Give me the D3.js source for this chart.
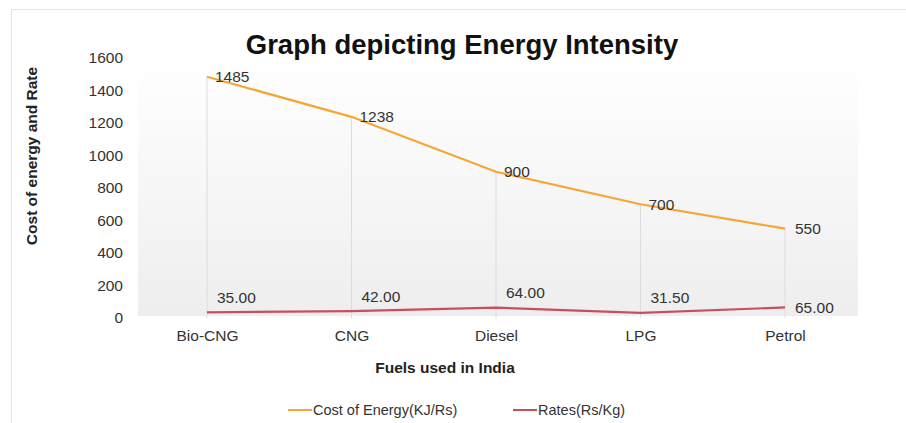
<!DOCTYPE html>
<html><head><meta charset="utf-8">
<script src="https://cdn.jsdelivr.net/npm/d3@7"></script>
<style>body{margin:0;background:#fff}svg{display:block;font-family:"Liberation Sans",Arial,sans-serif}</style>
</head><body>
<svg id="c" width="906" height="423"></svg>
<script>
const categories = ["Bio-CNG","CNG","Diesel","LPG","Petrol"];
const costOfEnergy = [1485,1238,900,700,550];
const costLabels = ["1485","1238","900","700","550"];
const rates = [35.00,42.00,64.00,31.50,65.00];
const rateLabels = ["35.00","42.00","64.00","31.50","65.00"];
const yTicks = [0,200,400,600,800,1000,1200,1400,1600];
const seriesNames = ["Cost of Energy(KJ/Rs)","Rates(Rs/Kg)"];
const colors = ["#f7a536","#c8505e"];

const svg = d3.select("#c");
const defs = svg.append("defs");
const g = defs.append("linearGradient").attr("id","bg").attr("x1",0).attr("y1",0).attr("x2",0).attr("y2",1);
g.append("stop").attr("offset","0%").attr("stop-color","#ffffff");
g.append("stop").attr("offset","100%").attr("stop-color","#eeeeee");

// outer border
svg.append("rect").attr("x",11.5).attr("y",9.5).attr("width",1000).attr("height",500)
  .attr("fill","#fff").attr("stroke","#e2e2e2");

const x = d3.scalePoint().domain(categories).range([207,785]);
const y = d3.scaleLinear().domain([0,1600]).range([318,58]);

// plot background
svg.append("rect").attr("x",138).attr("y",58).attr("width",720).attr("height",y(0)-58-2)
  .attr("fill","url(#bg)");

// drop lines
svg.append("g").selectAll("line").data(categories).join("line")
  .attr("x1",d=>x(d)).attr("x2",d=>x(d))
  .attr("y1",(d,i)=>y(costOfEnergy[i])).attr("y2",y(0))
  .attr("stroke","#dcdcdc").attr("stroke-width",1);

// title
svg.append("text").attr("x",462).attr("y",54).attr("text-anchor","middle")
  .attr("font-size",27.5).attr("font-weight","bold").attr("fill","#111")
  .text("Graph depicting Energy Intensity");

// y axis
const ya = svg.append("g").attr("transform","translate(123,0)")
  .call(d3.axisLeft(y).tickValues(yTicks).tickSize(0).tickPadding(0).tickFormat(d3.format("d")));
ya.select(".domain").remove();
ya.selectAll("text").attr("font-size",15.5).attr("fill","#333").attr("font-family","Liberation Sans, Arial, sans-serif");

// x axis
const xa = svg.append("g").attr("transform","translate(0,327)")
  .call(d3.axisBottom(x).tickSize(0).tickPadding(0));
xa.select(".domain").remove();
xa.selectAll("text").attr("font-size",15.5).attr("fill","#333").attr("dy","0.9em").attr("font-family","Liberation Sans, Arial, sans-serif");

// axis titles
svg.append("text").attr("x",445).attr("y",373).attr("text-anchor","middle")
  .attr("font-size",15.5).attr("font-weight","bold").attr("fill","#222").text("Fuels used in India");
svg.append("text").attr("transform","translate(37,156) rotate(-90)").attr("text-anchor","middle")
  .attr("font-size",15.5).attr("font-weight","bold").attr("fill","#222").text("Cost of energy and Rate");

// lines
const line = d3.line().x((d,i)=>x(categories[i])).y(d=>y(d));
svg.append("path").datum(costOfEnergy).attr("d",line).attr("fill","none")
  .attr("stroke",colors[0]).attr("stroke-width",2.2);
svg.append("path").datum(rates).attr("d",line).attr("fill","none")
  .attr("stroke",colors[1]).attr("stroke-width",2.2);

// labels
svg.append("g").selectAll("text").data(costOfEnergy).join("text")
  .attr("x",(d,i)=>x(categories[i])+ (i==4?10:8)).attr("y",(d,i)=>y(d)).attr("dy","0.35em")
  .attr("font-size",15.5).attr("fill","#333").text((d,i)=>costLabels[i]);
svg.append("g").selectAll("text").data(rates).join("text")
  .attr("x",(d,i)=>x(categories[i])+10).attr("y",(d,i)=>i==4?y(d):y(d)-15).attr("dy","0.35em")
  .attr("font-size",15.5).attr("fill","#333").text((d,i)=>rateLabels[i]);

// legend
const lg = [{x:288,i:0},{x:513,i:1}];
lg.forEach(l=>{
  svg.append("line").attr("x1",l.x).attr("x2",l.x+24).attr("y1",410).attr("y2",410)
    .attr("stroke",colors[l.i]).attr("stroke-width",2);
  svg.append("text").attr("x",l.x+25).attr("y",410).attr("dy","0.35em")
    .attr("font-size",14.5).attr("fill","#333").text(seriesNames[l.i]);
});
</script>
</body></html>
